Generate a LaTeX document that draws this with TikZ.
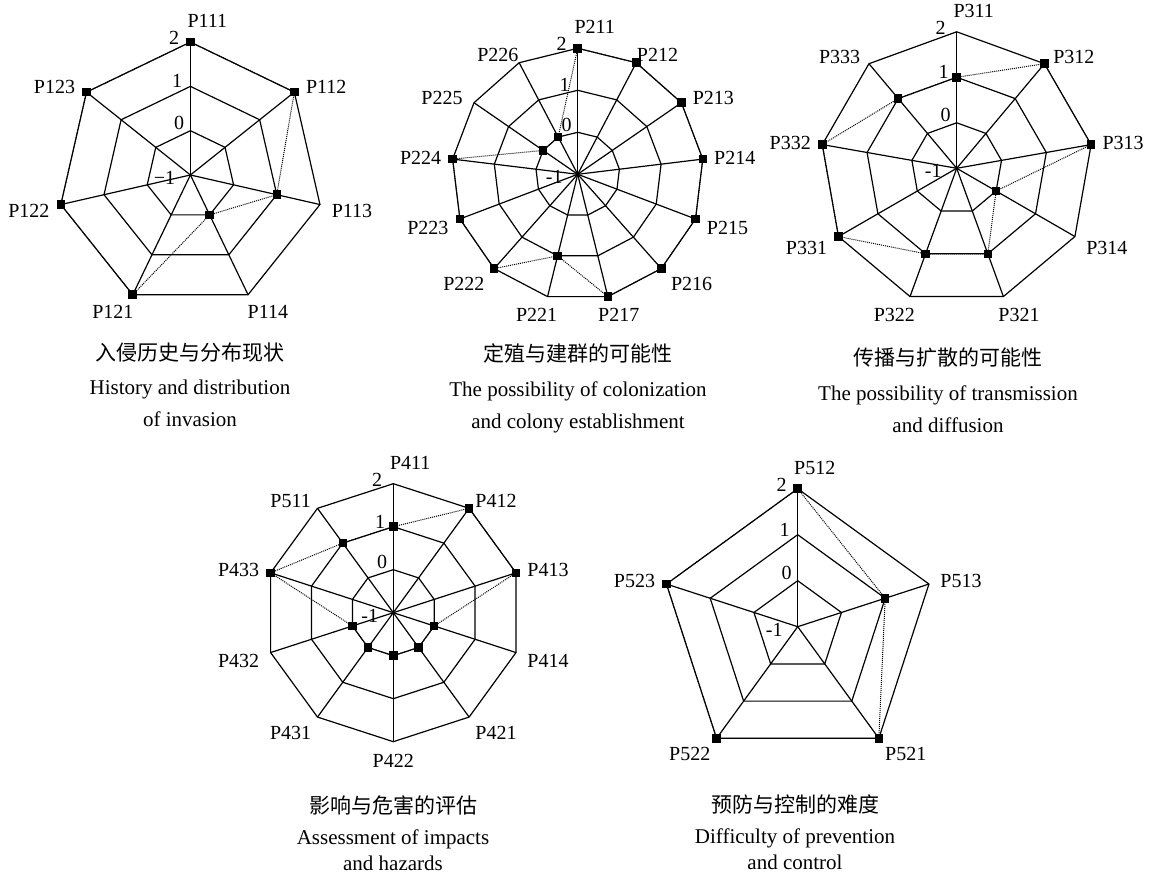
\documentclass[tikz,border=0pt]{standalone}
\usepackage{fontspec}
\setmainfont{Liberation Serif}
\newfontfamily\cjk{Noto Sans CJK SC}
\usetikzlibrary{positioning}

\tikzset{
  ring/.style={line width=1.2pt, line join=miter},
  spoke/.style={line width=1.2pt},
  datapath/.style={line width=1pt, densely dotted},
  marker/.style={fill, minimum size=8.5pt, inner sep=0pt},
  axislabel/.style={inner sep=0pt, font=\fontsize{20}{22}\selectfont},
  levellabel/.style={inner sep=1pt, anchor=east, font=\fontsize{20}{22}\selectfont},
  caption/.style={align=center, inner sep=0pt, font=\fontsize{21}{32}\selectfont},
  lowcaption/.style={caption, font=\fontsize{21}{26}\selectfont},
}

% radar chart: [#1 lowest level text] #2 name, #3 number of axes, #4 ring step, #5 label/value list
\newcommand{\radarchart}[5][-1]{%
  \pgfmathtruncatemacro\last{#3-1}
  \coordinate (#2-c) at (0,0);
  % rings
  \foreach \k in {1,2,3}
    \draw[ring] (90:\k*#4) \foreach \i in {1,...,\last} { -- ({90-\i*360/#3}:\k*#4) } -- cycle;
  % spokes, axis labels, markers
  \foreach \lab/\val [count=\i from 0] in {#5} {
    \pgfmathsetmacro\ang{90-\i*360/#3}
    \pgfmathsetmacro\lx{32*max(-1,min(1,cos(\ang)/0.7))}
    \pgfmathsetmacro\ly{ifthenelse(sin(\ang)>0, 9*sin(\ang), 16*sin(\ang)-3)}
    \draw[spoke] (#2-c) -- (\ang:3*#4) coordinate (#2-o\i);
    \ifnum\i=0
      \node[axislabel, xshift=17pt, yshift=21pt] (#2-l\i) at (#2-o\i) {\lab};
    \else
      \node[axislabel, xshift=\lx pt, yshift=\ly pt] (#2-l\i) at (#2-o\i) {\lab};
    \fi
    \node[marker] (#2-d\i) at (\ang:{(\val+1)*#4}) {};
  }
  % level values
  \node[levellabel, xshift=-14pt, yshift=-3pt] (#2-v0) at (#2-c) {#1};
  \foreach \v/\dx/\dy [count=\k] in {0/-5/7.5, 1/-7/5, 2/-10/4}
    \node[levellabel, xshift=\dx pt, yshift=\dy pt] (#2-v\k) at (0,\k*#4) {\v};
  % data polygon
  \draw[datapath] (#2-d0.center) \foreach \i in {1,...,\last} { -- (#2-d\i.center) } -- cycle;
}

\begin{document}
\begin{tikzpicture}[x=1pt, y=1pt]
  \useasboundingbox (0,0) rectangle (1157,877);

  % top row
  \begin{scope}[shift={(190.4,702)}]
    \radarchart[−1]{a}{7}{44.3}{P111/2,P112/2,P113/1,P114/0,P121/2,P122/2,P123/2}
  \end{scope}
  \node[caption, anchor=north] (a-cap) at (190,534.5)
    {{\cjk 入侵历史与分布现状}\\[2pt]History and distribution\\of invasion};

  \begin{scope}[shift={(577.7,702.7)}]
    \radarchart{b}{13}{42}{P211/2,P212/2,P213/2,P214/2,P215/2,P216/2,P217/2,P221/1,P222/2,P223/2,P224/2,P225/0,P226/0}
  \end{scope}
  \node[caption, anchor=north] (b-cap) at (578,533.5)
    {{\cjk 定殖与建群的可能性}\\[3pt]The possibility of colonization\\and colony establishment};

  \begin{scope}[shift={(956.7,708.7)}]
    \radarchart{c}{9}{45.5}{P311/1,P312/2,P313/2,P314/0,P321/1,P322/1,P331/2,P332/2,P333/1}
  \end{scope}
  \node[caption, anchor=north] (c-cap) at (948,529.5)
    {{\cjk 传播与扩散的可能性}\\[3pt]The possibility of transmission\\and diffusion};

  % bottom row
  \begin{scope}[shift={(393.3,264.3)}]
    \radarchart{d}{10}{43}{P411/1,P412/2,P413/2,P414/0,P421/0,P422/0,P431/0,P432/0,P433/2,P511/1}
  \end{scope}
  \node[lowcaption, anchor=north] (d-cap) at (393,81)
    {{\cjk 影响与危害的评估}\\[5pt]Assessment of impacts\\and hazards};

  \begin{scope}[shift={(797.7,250.3)}]
    \radarchart{e}{5}{46}{P512/2,P513/1,P521/2,P522/2,P523/2}
  \end{scope}
  \node[lowcaption, anchor=north] (e-cap) at (795,82)
    {{\cjk 预防与控制的难度}\\[5pt]Difficulty of prevention\\and control};
\end{tikzpicture}
\end{document}
